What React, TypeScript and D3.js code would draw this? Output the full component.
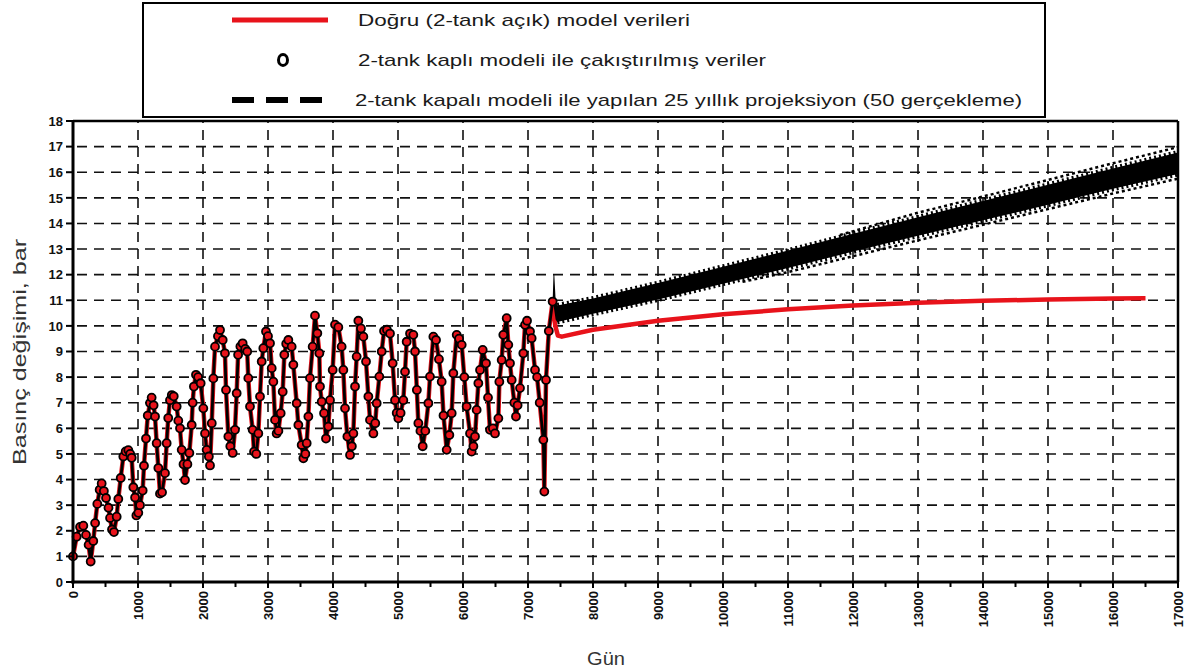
import React from 'react';
import * as d3 from 'd3';

// Observed pressure history (day, bar) – fitted points of the closed 2-tank model
const historyPoints: [number, number][] = [
  [0, 1.0], [56, 1.77], [108, 2.15], [159, 2.2], [200, 1.84], [240, 1.45], [272, 0.8], [312, 1.6],
  [340, 2.3], [374, 3.05], [410, 3.6], [441, 3.85], [475, 3.55], [508, 3.28], [546, 2.9], [570, 2.5],
  [600, 2.05], [630, 1.95], [672, 2.55], [697, 3.24], [734, 4.06], [774, 4.9], [810, 5.1], [851, 5.15],
  [880, 5.0], [903, 4.85], [928, 3.7], [955, 3.3], [975, 2.6], [1005, 2.7], [1031, 3.0], [1072, 3.57],
  [1092, 4.54], [1123, 5.6], [1150, 6.5], [1185, 6.99], [1210, 7.2], [1240, 6.9], [1262, 6.46],
  [1287, 5.42], [1313, 4.45], [1338, 3.45], [1370, 3.5], [1415, 4.25], [1441, 5.42], [1465, 6.4],
  [1492, 7.1], [1520, 7.3], [1550, 7.25], [1595, 6.85], [1620, 6.3], [1646, 6.0], [1672, 5.16],
  [1700, 4.6], [1723, 3.98], [1760, 4.6], [1790, 5.04], [1826, 6.13], [1841, 7.0], [1860, 7.63],
  [1892, 8.09], [1925, 8.0], [1964, 7.76], [2005, 6.78], [2031, 5.8], [2056, 5.16], [2090, 4.9],
  [2108, 4.55], [2135, 6.2], [2159, 7.95], [2185, 9.19], [2230, 9.6], [2262, 9.84], [2303, 9.45],
  [2338, 8.93], [2354, 7.5], [2390, 5.68], [2420, 5.3], [2457, 5.04], [2492, 5.94], [2518, 7.37],
  [2540, 8.87], [2575, 9.2], [2610, 9.32], [2650, 9.1], [2680, 9.0], [2697, 7.96], [2723, 6.85],
  [2764, 5.94], [2785, 5.09], [2820, 5.0], [2851, 5.8], [2877, 7.24], [2903, 8.61], [2928, 9.13],
  [2969, 9.78], [3000, 9.6], [3031, 9.32], [3057, 8.35], [3082, 7.82], [3108, 6.33], [3133, 5.8],
  [3160, 5.9], [3195, 6.59], [3226, 7.43], [3251, 8.87], [3280, 9.3], [3313, 9.45], [3364, 9.19],
  [3390, 8.48], [3441, 6.98], [3467, 6.13], [3518, 5.35], [3544, 4.83], [3575, 5.0], [3595, 5.42],
  [3621, 6.46], [3646, 7.96], [3687, 9.19], [3723, 10.4], [3759, 9.71], [3790, 8.93], [3800, 7.63],
  [3826, 7.04], [3862, 6.59], [3892, 5.6], [3928, 6.07], [3954, 7.1], [3995, 8.28], [4031, 10.05],
  [4082, 9.95], [4133, 9.19], [4159, 8.28], [4185, 6.78], [4221, 5.68], [4262, 4.96], [4290, 5.3],
  [4313, 5.8], [4339, 7.63], [4364, 8.8], [4390, 10.2], [4430, 9.9], [4467, 9.58], [4508, 8.61],
  [4544, 7.24], [4569, 6.33], [4621, 5.8], [4650, 6.2], [4672, 6.98], [4713, 8.02], [4749, 9.0],
  [4785, 9.8], [4830, 9.85], [4877, 9.7], [4918, 8.54], [4954, 7.1], [4980, 6.6], [5005, 6.39],
  [5040, 6.6], [5082, 7.1], [5108, 8.21], [5133, 9.38], [5185, 9.7], [5236, 9.65], [5262, 9.0],
  [5290, 7.5], [5313, 6.2], [5345, 5.9], [5380, 5.3], [5420, 5.9], [5467, 6.98], [5492, 8.02],
  [5544, 9.58], [5585, 9.45], [5630, 8.7], [5672, 7.82], [5700, 6.5], [5749, 5.16], [5790, 5.74],
  [5826, 6.59], [5851, 8.15], [5903, 9.65], [5940, 9.5], [5980, 9.26], [6020, 8.0], [6056, 6.85],
  [6108, 5.8], [6133, 5.09], [6160, 5.3], [6185, 5.68], [6210, 6.72], [6236, 7.76], [6262, 8.28],
  [6303, 9.06], [6354, 8.54], [6385, 7.2], [6415, 5.94], [6460, 6.0], [6492, 5.8], [6544, 6.39],
  [6559, 7.82], [6595, 8.67], [6620, 9.65], [6672, 10.3], [6697, 9.26], [6723, 8.54], [6749, 7.89],
  [6790, 7.0], [6815, 6.46], [6840, 6.9], [6877, 7.57], [6928, 8.93], [6954, 10.04], [6985, 10.2],
  [7031, 9.78], [7056, 9.52], [7108, 8.28], [7140, 8.0], [7180, 7.0], [7236, 5.55], [7251, 3.53],
  [7277, 7.89], [7320, 9.8], [7379, 10.95],
];

// Open 2-tank model continuation (red) after the history period
const openModelForecast: [number, number][] = [
  [7420, 10.0], [7460, 9.62], [7520, 9.58], [8000, 9.85], [9000, 10.2], [10000, 10.45],
  [11000, 10.65], [12000, 10.8], [13000, 10.9], [14000, 10.98], [15000, 11.03], [16000, 11.07],
  [16500, 11.08],
];

// Closed-model 25-year projection: envelope of the 50 realizations
const projectionUpper: [number, number][] = [
  [7379, 10.95], [7392, 12.0], [7405, 12.0], [7425, 11.0], [7450, 10.8], [8000, 11.07],
  [9000, 11.67], [10000, 12.31], [11000, 12.94], [12000, 13.6], [13000, 14.24], [14000, 14.88],
  [15000, 15.51], [16000, 16.15], [17000, 16.77],
];
const projectionLower: [number, number][] = [
  [7379, 10.95], [7392, 10.8], [7405, 10.6], [7425, 10.25], [7450, 10.15], [8000, 10.47],
  [9000, 11.03], [10000, 11.65], [11000, 12.26], [12000, 12.9], [13000, 13.52], [14000, 14.12],
  [15000, 14.73], [16000, 15.35], [17000, 15.93],
];

// Outermost realizations drawn as dotted lines
const outerUpper: [number, number][] = [
  [11800, 13.55], [13000, 14.42], [14000, 15.05], [15000, 15.7], [16000, 16.35], [17000, 16.98],
];
const outerLower: [number, number][] = [
  [10300, 11.72], [11000, 12.1], [12000, 12.72], [13000, 13.34], [14000, 13.95], [15000, 14.56],
  [16000, 15.17], [17000, 15.75],
];

const xTickLabels = ['0', '1000', '2000', '3000', '4000', '5000', '6000', '7000', '8000', '9000',
  '10000', '11000', '12000', '13000', '14000', '15000', '16000', '17000'];
const yTickLabels = ['0', '1', '2', '3', '4', '5', '6', '7', '8', '9', '10', '11', '12', '13',
  '14', '15', '16', '17', '18'];

const legendLabels = [
  'Doğru (2-tank  açık) model verileri',
  '2-tank kaplı modeli ile çakıştırılmış veriler',
  '2-tank kapalı modeli ile yapılan 25 yıllık projeksiyon (50 gerçekleme)',
];

const W = 1189;
const H = 672;
const FONT = '"Liberation Sans", Arial, Helvetica, sans-serif';
const RED = '#e8131b';

export default function App() {
  const x = d3.scaleLinear().domain([0, 17000]).range([73, 1178]);
  const y = d3.scaleLinear().domain([0, 18]).range([582, 121]);

  const line = d3.line<[number, number]>().x(d => x(d[0])).y(d => y(d[1]));
  const band = d3.area<number>()
    .x((_, i) => x(projectionUpper[i][0]))
    .y0((_, i) => y(projectionLower[i][1]))
    .y1((_, i) => y(projectionUpper[i][1]));

  const bandPath = band(projectionUpper.map((_, i) => i)) as string;
  const redPath = line([...historyPoints, ...openModelForecast]) as string;
  const blackPath = line(historyPoints) as string;

  const xMajor = xTickLabels.map(Number);
  const xMinor = d3.range(500, 17000, 1000);
  const yVals = yTickLabels.map(Number);
  const [x0, x1] = x.range();
  const [yb, yt] = y.range();

  return (
    <svg width={W} height={H} style={{ position: 'absolute', left: 0, top: 0, background: '#fff' }}
      fontFamily={FONT}>
      <rect x={0} y={0} width={W} height={H} fill="#fff" />

      {/* grid */}
      <g stroke="#111" strokeWidth={1.6} strokeDasharray="10 7">
        {yVals.filter(v => v > 0 && v < 18).map(v => (
          <line key={'gy' + v} x1={x0 + 4} x2={x1} y1={y(v)} y2={y(v)} />
        ))}
        {xMajor.filter(v => v > 0 && v < 17000).map(v => (
          <line key={'gx' + v} x1={x(v)} x2={x(v)} y1={yb} y2={yt} />
        ))}
      </g>

      {/* open model (red) */}
      <path d={redPath} fill="none" stroke={RED} strokeWidth={4.5} strokeLinejoin="round" />

      {/* projection band */}
      <path d={bandPath} fill="#000" />
      <path d={line(projectionUpper.slice(4)) as string} fill="none" stroke="#000" strokeWidth={5}
        strokeDasharray="2 3" />
      <path d={line(projectionLower.slice(4)) as string} fill="none" stroke="#000" strokeWidth={5}
        strokeDasharray="2 3" />
      <path d={line(outerUpper) as string} fill="none" stroke="#000" strokeWidth={2.5}
        strokeDasharray="3 3" />
      <path d={line(outerLower) as string} fill="none" stroke="#000" strokeWidth={2.5}
        strokeDasharray="3 3" />

      {/* closed model fit over history */}
      <path d={blackPath} fill="none" stroke="#000" strokeWidth={2.8} strokeLinejoin="round" />
      {historyPoints.map(([d, v], i) => (
        <circle key={'p' + i} cx={x(d)} cy={y(v)} r={4} fill={RED} stroke="#000" strokeWidth={1.8} />
      ))}

      {/* frame */}
      <g stroke="#000" fill="none">
        <line x1={x0} x2={x1} y1={yt} y2={yt} strokeWidth={2.5} />
        <line x1={x1} x2={x1} y1={yt} y2={yb} strokeWidth={2.5} />
        <line x1={x0} x2={x0} y1={yt - 1} y2={yb + 1.5} strokeWidth={3} />
        <line x1={x0 - 1.5} x2={x1 + 1} y1={yb} y2={yb} strokeWidth={3} />
      </g>

      {/* y axis */}
      <g>
        {yVals.map(v => (
          <g key={'yt' + v}>
            <line x1={x0 - 7} x2={x0} y1={y(v)} y2={y(v)} stroke="#000" strokeWidth={2} />
            <text x={x0 - 10} y={y(v)} dy="0.36em" textAnchor="end" fontSize={13} fontWeight="bold"
              fill="#111">{yTickLabels[v]}</text>
          </g>
        ))}
      </g>

      {/* x axis */}
      <g>
        {xMinor.map(v => (
          <line key={'xm' + v} x1={x(v)} x2={x(v)} y1={yb} y2={yb + 5} stroke="#000" strokeWidth={2} />
        ))}
        {xMajor.map((v, i) => (
          <g key={'xt' + v}>
            <line x1={x(v)} x2={x(v)} y1={yb} y2={yb + 6} stroke="#000" strokeWidth={2} />
            <text transform={`translate(${x(v)},${yb + 9}) rotate(-90)`} dy="0.36em" textAnchor="end"
              fontSize={13} fontWeight="bold" fill="#111">{xTickLabels[i]}</text>
          </g>
        ))}
      </g>

      {/* axis titles */}
      <text transform="translate(26,352) rotate(-90)" textAnchor="middle" fontSize={18} fill="#333"
        textLength={226} lengthAdjust="spacingAndGlyphs">Basınç değişimi, bar</text>
      <text x={606} y={665} textAnchor="middle" fontSize={18} fill="#333" textLength={38}
        lengthAdjust="spacingAndGlyphs">Gün</text>

      {/* legend */}
      <g>
        <rect x={143} y={3} width={902} height={114} fill="#fff" stroke="#000" strokeWidth={2} />
        <line x1={232} x2={328} y1={20} y2={20} stroke={RED} strokeWidth={5} />
        <ellipse cx={283} cy={60} rx={4.5} ry={5.5} fill="#fff" stroke="#000" strokeWidth={3} />
        <line x1={232} x2={322} y1={100} y2={100} stroke="#000" strokeWidth={6} strokeDasharray="22 12" />
        <text x={358} y={26} fontSize={17} fill="#1a1a1a" textLength={332}
          lengthAdjust="spacingAndGlyphs">{legendLabels[0]}</text>
        <text x={358} y={66} fontSize={17} fill="#1a1a1a" textLength={408}
          lengthAdjust="spacingAndGlyphs">{legendLabels[1]}</text>
        <text x={355} y={106} fontSize={17} fill="#1a1a1a" textLength={667}
          lengthAdjust="spacingAndGlyphs">{legendLabels[2]}</text>
      </g>
    </svg>
  );
}
